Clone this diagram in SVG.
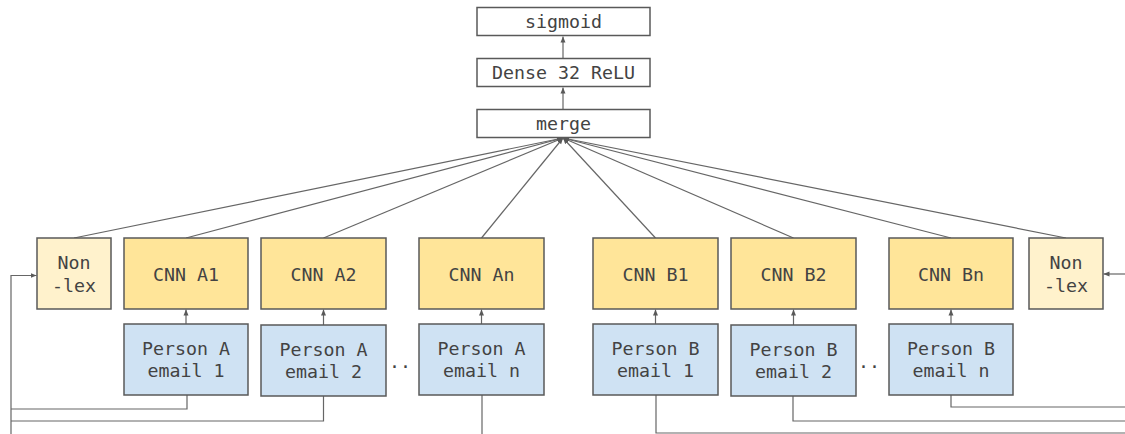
<svg xmlns="http://www.w3.org/2000/svg" width="1125" height="434" viewBox="0 0 1125 434">
<defs>
<marker id="ah" viewBox="0 0 6 6" refX="6" refY="3" markerWidth="6" markerHeight="6" markerUnits="userSpaceOnUse" orient="auto">
<path d="M0,0.5 L6,3 L0,5.5 Z" fill="#595959"/>
</marker>
</defs>
<style>
rect{stroke:#595959;stroke-width:1.5}
.w{fill:#ffffff}
.y{fill:#ffe599}
.ly{fill:#fff2cc}
.b{fill:#cfe2f3}
text{font-family:"DejaVu Sans Mono","Liberation Mono",monospace;font-size:18.3px;fill:#434343;text-anchor:middle}
.c line,.c polyline{stroke:#666666;stroke-width:1.2;fill:none}
</style>
<rect width="1125" height="434" fill="#ffffff" style="stroke:none"/>
<g class="c" id="connectors">
<line x1="563" y1="109" x2="563" y2="87.5" marker-end="url(#ah)"/>
<line x1="563" y1="58" x2="563" y2="36.5" marker-end="url(#ah)"/>
<line x1="74" y1="238" x2="563" y2="138" marker-end="url(#ah)"/>
<line x1="186" y1="238" x2="563" y2="138" marker-end="url(#ah)"/>
<line x1="323.5" y1="238" x2="563" y2="138" marker-end="url(#ah)"/>
<line x1="481.5" y1="238" x2="563" y2="138" marker-end="url(#ah)"/>
<line x1="655.5" y1="238" x2="563" y2="138" marker-end="url(#ah)"/>
<line x1="793.5" y1="238" x2="563" y2="138" marker-end="url(#ah)"/>
<line x1="951" y1="238" x2="563" y2="138" marker-end="url(#ah)"/>
<line x1="1066" y1="238" x2="563" y2="138" marker-end="url(#ah)"/>
<line x1="186" y1="324" x2="186" y2="309.5" marker-end="url(#ah)"/>
<line x1="323.5" y1="325" x2="323.5" y2="309.5" marker-end="url(#ah)"/>
<line x1="481.5" y1="324" x2="481.5" y2="309.5" marker-end="url(#ah)"/>
<line x1="655.5" y1="324" x2="655.5" y2="309.5" marker-end="url(#ah)"/>
<line x1="793.5" y1="325" x2="793.5" y2="309.5" marker-end="url(#ah)"/>
<line x1="951" y1="324" x2="951" y2="309.5" marker-end="url(#ah)"/>
<polyline points="187,395 187,409 11,409"/>
<polyline points="323.5,396 323.5,421 11,421"/>
<polyline points="11,434 11,275.5 36.5,275.5" marker-end="url(#ah)"/>
<line x1="482" y1="395" x2="482" y2="434"/>
<polyline points="656,395 656,433 1125,433"/>
<polyline points="793,396 793,421 1125,421"/>
<polyline points="951,395 951,407 1125,407"/>
<line x1="1125" y1="274" x2="1103.5" y2="274" marker-end="url(#ah)"/>
</g>
<g id="sigmoid"><rect class="w" x="477" y="7.5" width="173" height="28"/><text x="563.5" y="28">sigmoid</text></g>
<g id="dense"><rect class="w" x="477" y="58.5" width="173" height="28"/><text x="563.5" y="79">Dense 32 ReLU</text></g>
<g id="merge"><rect class="w" x="477" y="109.5" width="173" height="28"/><text x="563.5" y="130">merge</text></g>
<g id="nonlex-a"><rect class="ly" x="37" y="238" width="74" height="71"/><text x="74" y="269">Non</text><text x="74" y="292">-lex</text></g>
<g id="cnn-a1"><rect class="y" x="124" y="238" width="124" height="71"/><text x="186" y="281">CNN A1</text></g>
<g id="cnn-a2"><rect class="y" x="261" y="238" width="125" height="71"/><text x="323.5" y="281">CNN A2</text></g>
<g id="cnn-an"><rect class="y" x="419" y="238" width="125" height="71"/><text x="481.5" y="281">CNN An</text></g>
<g id="cnn-b1"><rect class="y" x="593" y="238" width="125" height="71"/><text x="655.5" y="281">CNN B1</text></g>
<g id="cnn-b2"><rect class="y" x="731" y="238" width="125" height="71"/><text x="793.5" y="281">CNN B2</text></g>
<g id="cnn-bn"><rect class="y" x="889" y="238" width="124" height="71"/><text x="951" y="281">CNN Bn</text></g>
<g id="nonlex-b"><rect class="ly" x="1029" y="238" width="74" height="71"/><text x="1066" y="269">Non</text><text x="1066" y="292">-lex</text></g>
<g id="pa1"><rect class="b" x="124" y="324" width="124" height="71"/><text x="186" y="355">Person A</text><text x="186" y="377">email 1</text></g>
<g id="pa2"><rect class="b" x="261" y="325" width="125" height="71"/><text x="323.5" y="356">Person A</text><text x="323.5" y="378">email 2</text></g>
<g id="pan"><rect class="b" x="419" y="324" width="125" height="71"/><text x="481.5" y="355">Person A</text><text x="481.5" y="377">email n</text></g>
<g id="pb1"><rect class="b" x="593" y="324" width="125" height="71"/><text x="655.5" y="355">Person B</text><text x="655.5" y="377">email 1</text></g>
<g id="pb2"><rect class="b" x="731" y="325" width="125" height="71"/><text x="793.5" y="356">Person B</text><text x="793.5" y="378">email 2</text></g>
<g id="pbn"><rect class="b" x="889" y="324" width="124" height="71"/><text x="951" y="355">Person B</text><text x="951" y="377">email n</text></g>
<g id="dots-a"><text x="400" y="368">..</text></g>
<g id="dots-b"><text x="869" y="368">..</text></g>
</svg>
